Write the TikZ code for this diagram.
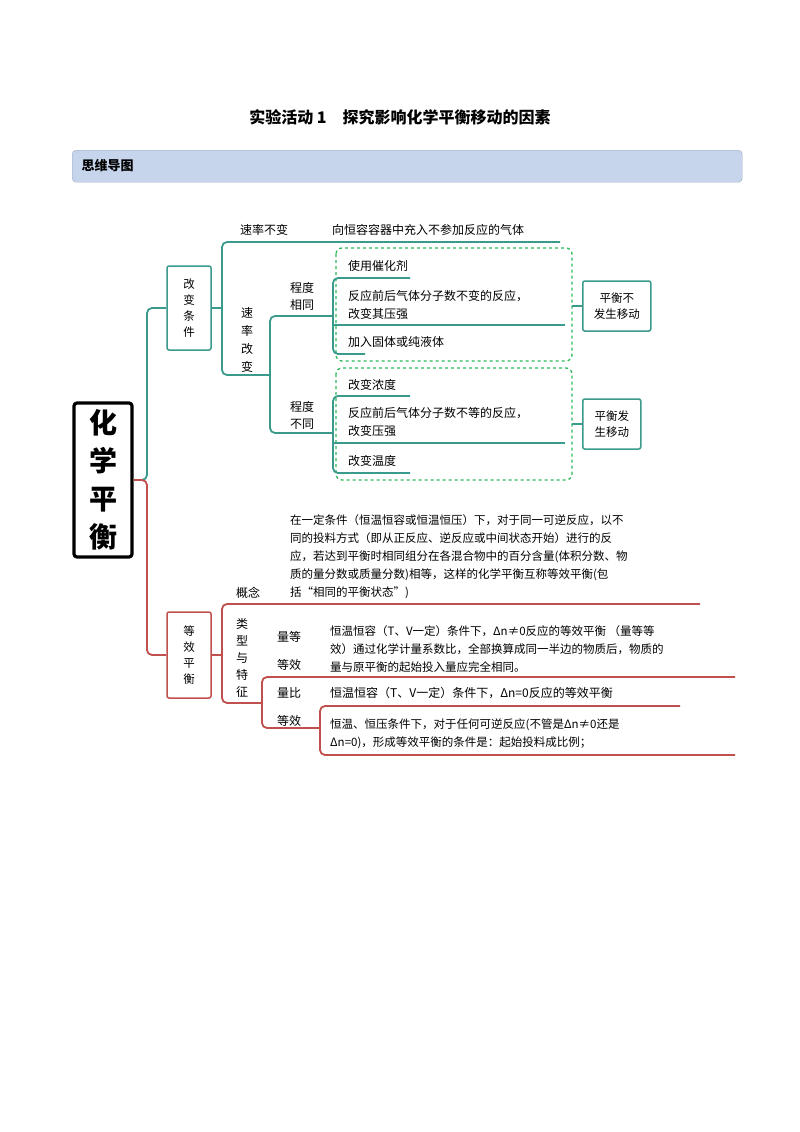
\documentclass[tikz,border=0pt]{standalone}
\usepackage{fontspec}
\setmainfont{Noto Sans CJK SC}
\definecolor{tc}{HTML}{3A9A8C}
\definecolor{rc}{HTML}{C0504D}
\definecolor{hb}{HTML}{C6D4EC}
\definecolor{gc}{HTML}{2DB85A}
\begin{document}
\begin{tikzpicture}[x=1pt,y=-1pt,
  tl/.style={draw=tc,line width=1.8pt,rounded corners=5pt},
  rd/.style={draw=rc,line width=1.8pt,rounded corners=5pt},
  tbox/.style={draw=tc,line width=1.5pt,rounded corners=2pt,minimum width=44pt,align=center,font=\fontsize{11.5}{16}\selectfont},
  rbox/.style={draw=rc,line width=1.5pt,rounded corners=2pt,minimum width=44pt,align=center,font=\fontsize{11.5}{16}\selectfont},
  txt/.style={font=\fontsize{12}{18}\selectfont,anchor=west,inner sep=0pt},
  dbox/.style={draw=gc,line width=1.3pt,dashed,rounded corners=6pt},
  ln/.style={draw=tc,line width=1.5pt}]
\useasboundingbox (0,0) rectangle (800,1132);
\node[font=\bfseries\fontsize{16}{18}\selectfont] (title) at (400,117) {实验活动 1\quad 探究影响化学平衡移动的因素};
\node[draw=hb!80!black,fill=hb,rounded corners=4pt,minimum width=670pt,minimum height=32pt,anchor=north west] (bar) at (72,150) {};
\node[font=\bfseries\fontsize{13}{14}\selectfont,anchor=west] (bt) at (78,166) {思维导图};
% central
\node[draw,line width=3.2pt,rounded corners=3pt,minimum width=58pt,minimum height=154pt,align=center,font=\bfseries\fontsize{28}{38}\selectfont] (c) at (103,480) {化\\学\\平\\衡};
% teal part
\node[tbox,minimum height=84pt] (gb) at (189,308) {改\\变\\条\\件};
\draw[tl] (c.east) -- (147,480) -- (147,308) -- (gb.west);
\coordinate (f1) at (222,308);
\draw[tl] (gb.east) -- (f1);
\draw[tl] (560,242) -- (222,242) -- (222,375) -- (270,375);
\node[txt] (sb) at (240,230) {速率不变};
\node[txt] (sbt) at (332,230) {向恒容容器中充入不参加反应的气体};
\node[align=center,font=\fontsize{12}{18}\selectfont] (sg) at (247,340) {速\\率\\改\\变};
\draw[tl] (333,316) -- (270,316) -- (270,433) -- (333,433);
\node[align=center,font=\fontsize{12}{17}\selectfont] (cx) at (302,296) {程度\\相同};
\node[align=center,font=\fontsize{12}{17}\selectfont] (cb) at (302,415) {程度\\不同};
\draw[dbox] (336,248) rectangle (572,361) coordinate (d1);
\draw[dbox] (336,368) rectangle (572,480) coordinate (d2);
\draw[tl] (410,278) -- (333,278) -- (333,354) -- (365,354);
\draw[ln] (333,325) -- (565,325);
\node[txt] (a1) at (348,266) {使用催化剂};
\node[txt,align=left] (a2) at (348,305) {反应前后气体分子数不变的反应，\\改变其压强};
\node[txt] (a3) at (348,342) {加入固体或纯液体};
\draw[tl] (410,396) -- (333,396) -- (333,473) -- (410,473);
\draw[ln] (333,443) -- (565,443);
\node[txt] (b1) at (348,385) {改变浓度};
\node[txt,align=left] (b2) at (348,422) {反应前后气体分子数不等的反应，\\改变压强};
\node[txt] (b3) at (348,461) {改变温度};
\node[tbox,minimum height=50pt,minimum width=68pt,anchor=west] (r1) at (582,306) {平衡不\\发生移动};
\node[tbox,minimum height=50pt,minimum width=58pt,anchor=west] (r2) at (582,424) {平衡发\\生移动};
\draw[ln] (572,306) -- (r1.west);
\draw[ln] (572,424) -- (r2.west);
% red part
\node[rbox,minimum height=86pt] (db) at (189,655) {等\\效\\平\\衡};
\draw[rd] (c.east) -- (147,480) -- (147,655) -- (db.west);
\draw[rd] (db.east) -- (222,655);
\draw[rd] (700,604) -- (222,604) -- (222,703) -- (262,703);
\node[txt] (gn) at (236,593) {概念};
\node[txt,align=left,font=\fontsize{11.5}{18}\selectfont] (gt) at (290,557) {在一定条件（恒温恒容或恒温恒压）下，对于同一可逆反应，以不\\同的投料方式（即从正反应、逆反应或中间状态开始）进行的反\\应，若达到平衡时相同组分在各混合物中的百分含量(体积分数、物\\质的量分数或质量分数)相等，这样的化学平衡互称等效平衡(包\\括“相同的平衡状态”)};
\node[align=center,font=\fontsize{12}{17}\selectfont] (lx) at (242,658) {类\\型\\与\\特\\征};
\draw[rd] (735,677) -- (262,677) -- (262,728) -- (320,728);
\draw[rd] (680,706) -- (320,706) -- (320,755) -- (735,755);
\node[txt] (q1) at (277,637) {量等};
\node[txt] (q2) at (277,665) {等效};
\node[txt] (q3) at (277,693) {量比};
\node[txt] (q4) at (277,721) {等效};
\node[txt,align=left,font=\fontsize{11.5}{18}\selectfont] (t1) at (330,649) {恒温恒容（T、V一定）条件下，Δn≠0反应的等效平衡 （量等等\\效）通过化学计量系数比，全部换算成同一半边的物质后，物质的\\量与原平衡的起始投入量应完全相同。};
\node[txt] (t2) at (330,693) {恒温恒容（T、V一定）条件下，Δn=0反应的等效平衡};
\node[txt,align=left,font=\fontsize{11.5}{18}\selectfont] (t3) at (330,734) {恒温、恒压条件下，对于任何可逆反应(不管是Δn≠0还是\\Δn=0)，形成等效平衡的条件是：起始投料成比例；};
\end{tikzpicture}
\end{document}
